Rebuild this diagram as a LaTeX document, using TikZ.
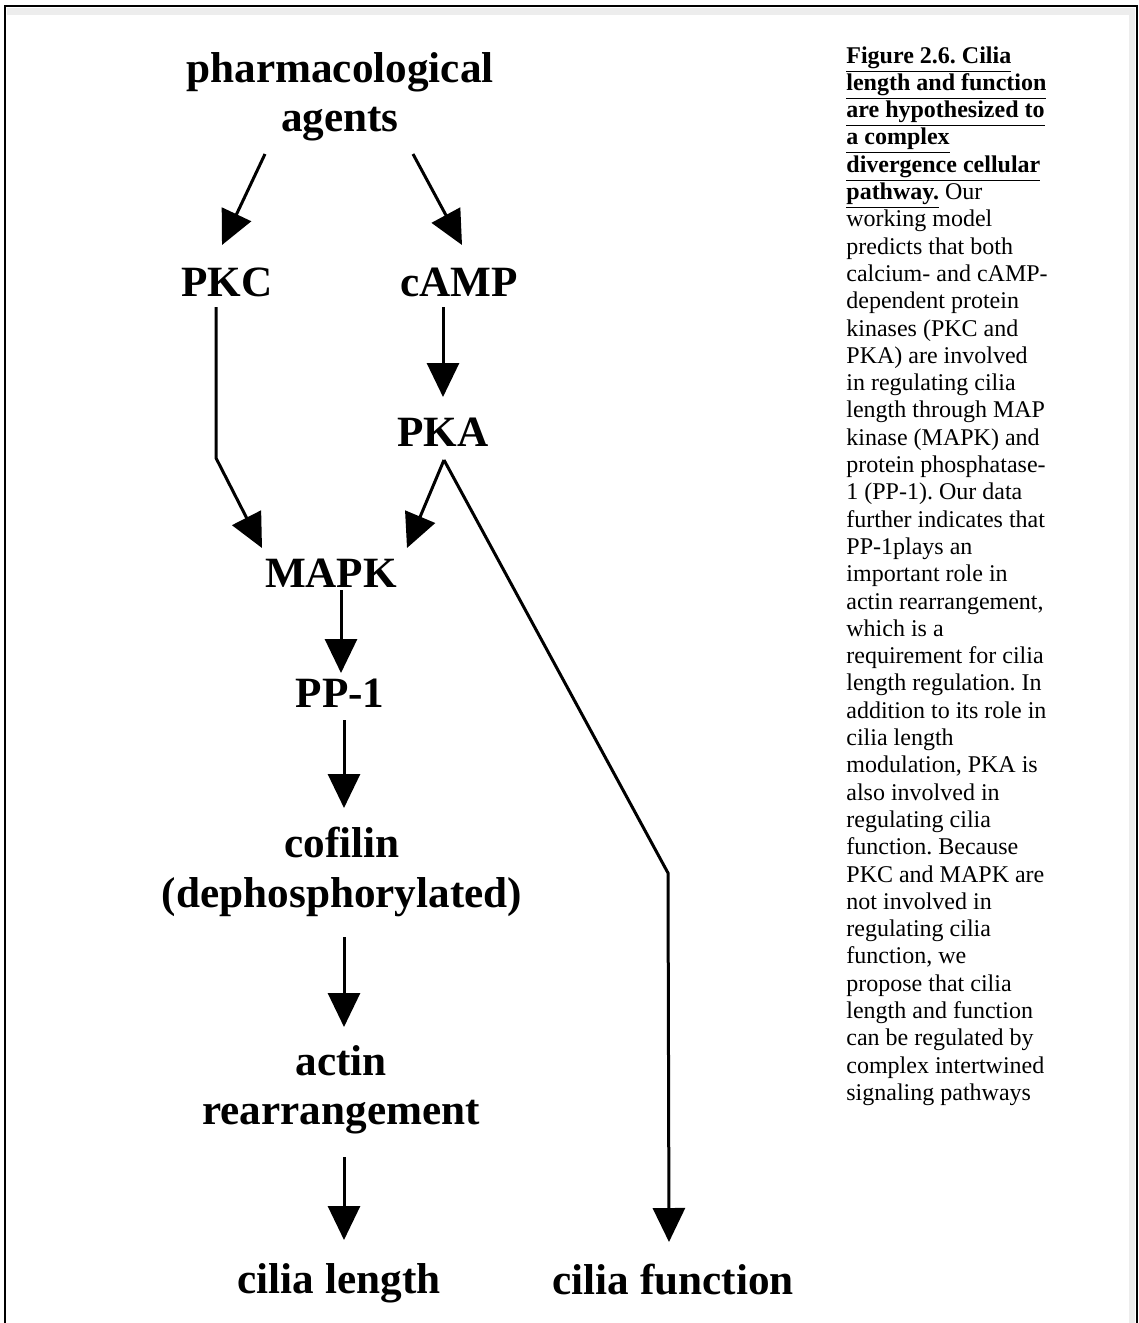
\documentclass[tikz,border=0pt]{standalone}
\usepackage{fontspec}
\setmainfont{Liberation Serif}
\usetikzlibrary{arrows.meta,calc}
\newcommand{\dgfont}{\fontsize{21.6}{24.75}\selectfont\bfseries}
\newcommand{\capfont}{\fontsize{12}{13.65}\selectfont\frenchspacing}
\newcommand{\ulb}[1]{\underline{\textbf{#1}}}

\begin{document}
\begin{tikzpicture}[x=0.5pt,y=-0.5pt,>={Triangle[length=17pt,width=16pt]},every node/.style={font=\dgfont,inner sep=0pt,align=center},arr/.style={->,line width=1.5pt},frame/.style={line width=1.2pt},band/.style={fill=black!7,draw=none}]
\useasboundingbox (0,0) rectangle (1139,1323);
% frame, open at the bottom, with its soft inner edge
\fill[band] (7,8) rectangle (1135,15);
\fill[band] (1129,8) rectangle (1135,1323);
\draw[frame] (5,1323) -- (5,6) -- (1137,6) -- (1137,1323);
% pathway labels
\node (agents) at (340,97) {pharmacological\\agents};
\node (PKC) at (227,282) {PKC};
\node (cAMP) at (459,282) {cAMP};
\node (PKA) at (443,432) {PKA};
\node (MAPK) at (331,573) {MAPK};
\node (PP1) at (340,693) {PP-1};
\node (cofilin) at (342,872) {cofilin\\(dephosphorylated)};
\node (actin) at (341,1090) {actin\\rearrangement};
\node (clength) at (339,1283) {cilia length};
\node (cfunc) at (673,1280) {cilia function};
% bends
\coordinate (kbend) at (216,458);
\coordinate (apex) at ($(PKA)+(1,28)$);
\coordinate (fbend) at (668,873);
% arrows
\draw[arr] ($(agents)+(-75,57)$) -- ($(PKC)+(-5,-37)$);
\draw[arr] ($(agents)+(73,57)$) -- ($(cAMP)+(3,-37)$);
\draw[arr] ($(PKC)+(-11,25)$) -- (kbend) -- ($(MAPK)+(-69,-25)$);
\draw[arr] ($(cAMP)+(-16,25)$) -- ($(PKA)+(0,-35)$);
\draw[arr] (apex) -- ($(MAPK)+(76,-25)$);
\draw[arr] (apex) -- (fbend) -- ($(cfunc)+(-4,-38)$);
\draw[arr] ($(MAPK)+(10,17)$) -- ($(PP1)+(1,-20)$);
\draw[arr] ($(PP1)+(4,27)$) -- ($(cofilin)+(2,-64)$);
\draw[arr] ($(cofilin)+(2,65)$) -- ($(actin)+(3,-63)$);
\draw[arr] ($(actin)+(3,67)$) -- ($(clength)+(5,-43)$);
% legend text
\node[font=\capfont,align=left,anchor=north west] (caption) at (846,46) {\ulb{Figure 2.6. Cilia}\\
\ulb{length and function}\\
\ulb{are hypothesized to}\\
\ulb{a complex}\\
\ulb{divergence cellular}\\
\ulb{pathway.} Our\\
working model\\
predicts that both\\
calcium- and cAMP-\\
dependent protein\\
kinases (PKC and\\
PKA) are involved\\
in regulating cilia\\
length through MAP\\
kinase (MAPK) and\\
protein phosphatase-\\
1 (PP-1). Our data\\
further indicates that\\
PP-1plays an\\
important role in\\
actin rearrangement,\\
which is a\\
requirement for cilia\\
length regulation. In\\
addition to its role in\\
cilia length\\
modulation, PKA is\\
also involved in\\
regulating cilia\\
function. Because\\
PKC and MAPK are\\
not involved in\\
regulating cilia\\
function, we\\
propose that cilia\\
length and function\\
can be regulated by\\
complex intertwined\\
signaling pathways};
\end{tikzpicture}
\end{document}
